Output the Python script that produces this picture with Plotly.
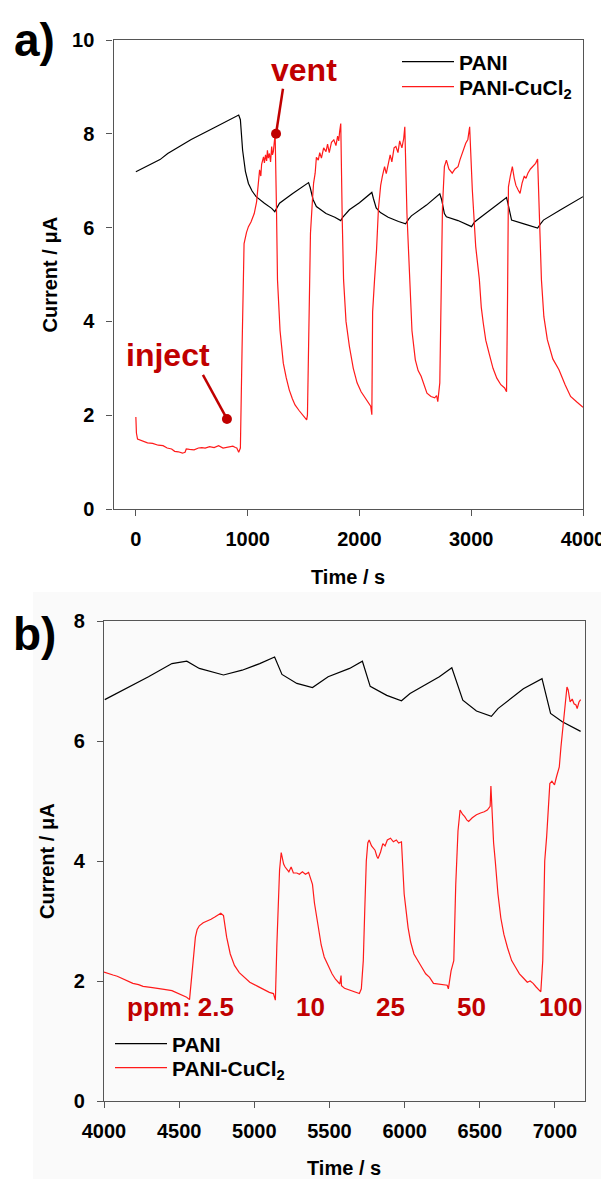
import plotly.graph_objects as go

# ---------------- DATA ----------------
# Panel a) PANI (black)
t_pani_a = [0, 216, 285, 420, 495, 700, 920, 935, 955, 980, 1007, 1040, 1076, 1150, 1215, 1243,
            1265, 1285, 1400, 1545, 1560, 1585, 1615, 1701, 1780, 1833, 1850, 1910, 2000, 2111,
            2125, 2150, 2188, 2257, 2350, 2413, 2440, 2465, 2600, 2719, 2735, 2760, 2778, 2882,
            3003, 3030, 3073, 3200, 3316, 3330, 3361, 3472, 3594, 3620, 3646, 3800, 4000]
i_pani_a = [7.19, 7.45, 7.58, 7.78, 7.88, 8.13, 8.40, 8.30, 7.65, 7.20, 6.94, 6.78, 6.66, 6.52, 6.41, 6.34,
            6.45, 6.52, 6.72, 6.96, 6.85, 6.60, 6.45, 6.30, 6.22, 6.15, 6.22, 6.38, 6.53, 6.75,
            6.62, 6.42, 6.32, 6.22, 6.13, 6.08, 6.18, 6.25, 6.48, 6.72, 6.60, 6.30, 6.23, 6.15,
            6.02, 6.12, 6.20, 6.42, 6.64, 6.50, 6.16, 6.08, 5.99, 6.08, 6.16, 6.38, 6.66]

# Panel a) PANI-CuCl2 (red)
t_cu_a = [0, 5, 15, 60, 104, 150, 200, 243, 280, 320, 347, 380, 417, 440, 451, 480, 521, 560, 590, 620,
          660, 700, 740, 780, 820, 868, 890, 903, 920, 935,
          950, 958, 968, 990, 1007, 1030, 1059, 1080, 1093, 1107, 1118, 1125, 1142, 1150, 1160, 1170,
          1177, 1185, 1195, 1205, 1215, 1222, 1230, 1240, 1246,
          1258, 1267, 1290, 1319, 1345, 1372, 1400, 1424, 1460, 1493, 1515, 1528, 1535,
          1545, 1562, 1580, 1590, 1604, 1615, 1632, 1645, 1660, 1680, 1701, 1715, 1730, 1750, 1771,
          1790, 1805, 1815, 1823, 1833,
          1846, 1858, 1880, 1910, 1945, 1979, 2015, 2049, 2080, 2101, 2111,
          2118, 2135, 2153, 2170, 2190, 2205, 2225, 2240, 2257, 2275, 2290, 2310, 2326, 2345, 2360,
          2380, 2396, 2406,
          2425, 2448, 2470, 2500, 2525, 2552, 2580, 2604, 2640, 2674, 2690, 2701,
          2719, 2730, 2743, 2760, 2778, 2800, 2830, 2855, 2882, 2900, 2920, 2935, 2951, 2970, 2986,
          3010, 3040, 3073, 3090, 3108, 3130, 3160, 3195, 3229, 3265, 3299, 3316,
          3325, 3333, 3350, 3368, 3385, 3400, 3420, 3437, 3455, 3475, 3490, 3507, 3530, 3550, 3576, 3594,
          3610, 3628, 3650, 3681, 3730, 3785, 3840, 3889, 3945, 4000]
i_cu_a = [1.96, 1.62, 1.49, 1.45, 1.41, 1.40, 1.36, 1.35, 1.30, 1.28, 1.23, 1.22, 1.19, 1.21, 1.28, 1.27, 1.26, 1.30, 1.31, 1.30,
          1.33, 1.31, 1.35, 1.30, 1.32, 1.34, 1.31, 1.30, 1.21, 1.30,
          3.40, 4.60, 5.66, 5.90, 6.02, 6.12, 6.30, 6.55, 6.87, 7.23, 7.10, 7.35, 7.51, 7.38, 7.55, 7.42,
          7.65, 7.48, 7.58, 7.40, 7.73, 7.55, 7.62, 7.85, 8.00,
          6.40, 4.89, 3.80, 3.11, 2.80, 2.54, 2.35, 2.22, 2.10, 2.01, 1.95, 1.90, 2.00,
          3.60, 5.88, 6.60, 6.95, 7.16, 7.50, 7.44, 7.60, 7.48, 7.70, 7.62, 7.78, 7.60, 7.82, 7.87,
          7.75, 7.95, 7.85, 8.05, 8.22,
          6.20, 4.89, 4.00, 3.47, 3.00, 2.69, 2.50, 2.37, 2.25, 2.19, 2.01,
          4.20, 4.88, 5.52, 6.40, 6.90, 7.09, 7.30, 7.15, 7.37, 7.55, 7.40, 7.70, 7.73, 7.60, 7.85,
          7.70, 7.90, 8.15,
          6.30, 4.89, 3.80, 3.18, 2.95, 2.83, 2.62, 2.47, 2.40, 2.37, 2.42, 2.29,
          2.69, 5.00, 6.45, 7.30, 7.44, 7.25, 7.16, 7.25, 7.30, 7.45, 7.60, 7.70, 7.80, 7.88, 8.15,
          6.80, 5.60, 4.89, 4.30, 3.96, 3.60, 3.32, 3.00, 2.79, 2.65, 2.58, 2.50,
          4.50, 6.87, 7.10, 7.30, 7.05, 6.90, 6.80, 6.73, 6.95, 7.10, 7.05, 7.16, 7.25, 7.30, 7.37, 7.46,
          6.20, 4.89, 4.10, 3.61, 3.20, 2.97, 2.65, 2.40, 2.28, 2.17]

# Panel b) PANI (black)
t_pani_b = [4005, 4296, 4452, 4551, 4634, 4795, 4919, 5036, 5135, 5184, 5283, 5387, 5491, 5634,
            5719, 5771, 5881, 5979, 6036, 6231, 6314, 6387, 6478, 6577, 6621, 6790, 6914, 6971,
            7049, 7171]
i_pani_b = [6.69, 7.07, 7.29, 7.33, 7.21, 7.10, 7.18, 7.29, 7.40, 7.11, 6.96, 6.89, 7.07, 7.21,
            7.33, 6.91, 6.76, 6.67, 6.79, 7.07, 7.22, 6.68, 6.50, 6.41, 6.54, 6.87, 7.04, 6.46,
            6.32, 6.16]

# Panel b) PANI-CuCl2 (red)
t_cu_b = [4000, 4030, 4060, 4088, 4120, 4150, 4192, 4230, 4260, 4322, 4360, 4400, 4452, 4490, 4530, 4550, 4569,
          4587, 4600, 4608, 4620, 4634, 4660, 4690, 4712, 4740, 4760, 4777, 4795,
          4805, 4816, 4840, 4868, 4900, 4932, 4970, 5023, 5070, 5100, 5127, 5140,
          5150, 5158, 5168, 5179, 5195, 5205, 5218, 5230, 5245, 5260, 5283, 5300, 5320, 5340, 5361, 5374,
          5387, 5400, 5426, 5445, 5465, 5490, 5517, 5540, 5569, 5577, 5580, 5600, 5625, 5647, 5670, 5699, 5712,
          5725, 5735, 5745, 5755, 5764, 5780, 5803, 5815, 5823, 5840, 5855, 5870, 5885, 5906, 5925, 5945, 5960, 5979,
          5984, 5990, 5997, 6023, 6040, 6062, 6090, 6114, 6140, 6166, 6192, 6220, 6250, 6283, 6291, 6309, 6327,
          6340, 6355, 6369, 6385, 6400, 6415, 6426, 6450, 6478, 6505, 6530, 6550, 6569, 6574, 6582,
          6592, 6603, 6621, 6640, 6660, 6685, 6712, 6740, 6764, 6790, 6816, 6835, 6855, 6875, 6894, 6906,
          6919, 6932, 6945, 6955, 6966, 6980, 6997, 7010, 7029, 7040, 7049, 7060, 7070, 7080, 7088, 7095,
          7101, 7115, 7127, 7140, 7148, 7160, 7171]
i_cu_b = [2.15, 2.12, 2.10, 2.08, 2.04, 2.01, 1.96, 1.94, 1.91, 1.89, 1.88, 1.86, 1.84, 1.80, 1.76, 1.73, 1.69,
          2.17, 2.55, 2.73, 2.86, 2.92, 2.97, 3.00, 3.03, 3.07, 3.10, 3.13, 3.09,
          2.90, 2.73, 2.45, 2.26, 2.14, 2.06, 1.98, 1.91, 1.85, 1.81, 1.79, 1.68,
          2.60, 3.17, 3.85, 4.14, 3.95, 3.90, 3.85, 3.82, 3.90, 3.80, 3.80, 3.78, 3.82, 3.78, 3.81, 3.72,
          3.61, 3.30, 2.89, 2.60, 2.40, 2.25, 2.12, 2.03, 1.95, 2.09, 1.92, 1.88, 1.86, 1.84, 1.82, 1.79, 1.87,
          2.34, 3.20, 4.00, 4.30, 4.35, 4.25, 4.18, 4.08, 4.04, 4.15, 4.29, 4.25, 4.35, 4.38, 4.32, 4.35, 4.30, 4.32,
          4.00, 3.70, 3.45, 2.89, 2.65, 2.45, 2.32, 2.23, 2.12, 2.06, 1.96, 1.95, 1.94, 1.93, 1.87, 2.17, 2.34,
          3.60, 4.50, 4.85, 4.78, 4.74, 4.68, 4.66, 4.72, 4.77, 4.80, 4.82, 4.85, 4.91, 5.25, 4.80,
          4.30, 4.00, 3.45, 3.05, 2.78, 2.55, 2.34, 2.22, 2.12, 2.05, 1.98, 2.00, 1.96, 1.90, 1.84, 1.82,
          2.34, 4.00, 4.41, 4.90, 5.29, 5.33, 5.27, 5.40, 5.57, 5.90, 6.13, 6.40, 6.57, 6.90, 6.85, 6.70,
          6.65, 6.70, 6.62, 6.60, 6.54, 6.65, 6.69]

assert len(t_pani_a) == len(i_pani_a)
assert len(t_cu_a) == len(i_cu_a)
assert len(t_pani_b) == len(i_pani_b)
assert len(t_cu_b) == len(i_cu_b)

# Call-out markers in panel a): (time, current) of dot, and start of pointer line
vent_dot = [1254, 8.0]
vent_line_start = [1316, 8.96]
inject_dot = [815, 1.92]
inject_line_start = [600, 2.86]

ppm_labels = ["ppm: 2.5", "10", "25", "50", "100"]
series_names = ["PANI", "PANI-CuCl<sub>2</sub>"]

# ---------------- LAYOUT ----------------
# The page body has an 8 px margin, so the figure is 8 px smaller and all
# target pixel positions are shifted by that offset.
OFF = 8
W, H = 609 - OFF, 1179 - OFF
def fx(p):
    return (p - OFF) / W
def fy(p):
    return 1 - (p - OFF) / H

FONT = "Liberation Sans"
DARKRED = "#c00000"
AXC = "#555555"
RED = "#ff1a1a"

fig = go.Figure()

line_w = 1.2
fig.add_trace(go.Scatter(x=t_pani_a, y=i_pani_a, mode="lines", name=series_names[0],
                         line=dict(color="black", width=line_w), xaxis="x", yaxis="y", legend="legend"))
fig.add_trace(go.Scatter(x=t_cu_a, y=i_cu_a, mode="lines", name=series_names[1],
                         line=dict(color=RED, width=line_w), xaxis="x", yaxis="y", legend="legend2"))
fig.add_trace(go.Scatter(x=t_pani_b, y=i_pani_b, mode="lines", name=series_names[0],
                         line=dict(color="black", width=line_w), xaxis="x2", yaxis="y2", legend="legend3"))
fig.add_trace(go.Scatter(x=t_cu_b, y=i_cu_b, mode="lines", name=series_names[1],
                         line=dict(color=RED, width=line_w), xaxis="x2", yaxis="y2", legend="legend4"))

# pointer lines + dots
for start, dot in [(vent_line_start, vent_dot), (inject_line_start, inject_dot)]:
    fig.add_trace(go.Scatter(x=[start[0], dot[0]], y=[start[1], dot[1]], mode="lines",
                             line=dict(color=DARKRED, width=2.5), showlegend=False,
                             xaxis="x", yaxis="y", hoverinfo="skip"))
    fig.add_trace(go.Scatter(x=[dot[0]], y=[dot[1]], mode="markers",
                             marker=dict(color=DARKRED, size=10), showlegend=False,
                             xaxis="x", yaxis="y", hoverinfo="skip"))

tickfont = dict(family=FONT, size=20, color="black", weight="bold")
axis_common = dict(showline=True, linecolor=AXC, linewidth=1.3, mirror=True, ticks="outside",
                   ticklen=6, tickwidth=1.3, tickcolor=AXC, showgrid=False, zeroline=False,
                   tickfont=tickfont, automargin=False)

legfont = dict(family=FONT, size=21, color="black", weight="bold")
def leg(xpx, ypx):
    return dict(x=fx(xpx), y=fy(ypx), xanchor="left", yanchor="middle", bgcolor="rgba(0,0,0,0)",
                font=legfont, itemwidth=52, borderwidth=0)

fig.update_layout(
    template="none",
    width=W, height=H,
    margin=dict(l=0, r=0, t=0, b=0, pad=0, autoexpand=False),
    paper_bgcolor="white",
    plot_bgcolor="rgba(0,0,0,0)",
    xaxis=dict(domain=[fx(113.5), fx(583)], range=[-200, 4000], tickvals=[0, 1000, 2000, 3000, 4000],
               anchor="y", ticklabelstandoff=6, **axis_common),
    yaxis=dict(domain=[fy(509), fy(40)], range=[0, 10], tickvals=[0, 2, 4, 6, 8, 10],
               anchor="x", ticklabelstandoff=8, **axis_common),
    xaxis2=dict(domain=[fx(104), fx(585)], range=[4000, 7200],
                tickvals=[4000, 4500, 5000, 5500, 6000, 6500, 7000],
                anchor="y2", ticklabelstandoff=6, **axis_common),
    yaxis2=dict(domain=[fy(1101), fy(621)], range=[0, 8], tickvals=[0, 2, 4, 6, 8],
                anchor="x2", ticklabelstandoff=8, **axis_common),
    legend=leg(397, 62),
    legend2=leg(397, 87),
    legend3=leg(110, 1044),
    legend4=leg(110, 1068),
    showlegend=True,
)

# light grey background behind panel b
fig.add_shape(type="rect", xref="paper", yref="paper", x0=fx(33), x1=1, y0=0, y1=fy(592),
              fillcolor="#fafafa", line=dict(width=0), layer="below")

ann = []
def text_ann(txt, x, y, size, color="black", angle=0, xref="paper", yref="paper"):
    ann.append(dict(text=txt, x=x, y=y, xref=xref, yref=yref, showarrow=False, textangle=angle,
                    xanchor="center", yanchor="middle",
                    font=dict(family=FONT, size=size, color=color, weight="bold")))

text_ann("a)", fx(34), fy(40), 46)
text_ann("b)", fx(34), fy(634), 46)
text_ann("Current / μA", fx(49), fy(274.5), 20, angle=-90)
text_ann("Current / μA", fx(47), fy(861), 20, angle=-90)
text_ann("Time / s", fx(348), fy(577), 20)
text_ann("Time / s", fx(344), fy(1168), 20)
text_ann("vent", 1504, 9.36, 32, DARKRED, xref="x", yref="y")
text_ann("inject", 287, 3.28, 32, DARKRED, xref="x", yref="y")
ppm_x = [4506, 5371, 5909, 6442, 7034]
for lab, xx in zip(ppm_labels, ppm_x):
    text_ann(lab, xx, 1.57, 26, DARKRED, xref="x2", yref="y2")

fig.update_layout(annotations=ann)
fig.write_html("out.html")
